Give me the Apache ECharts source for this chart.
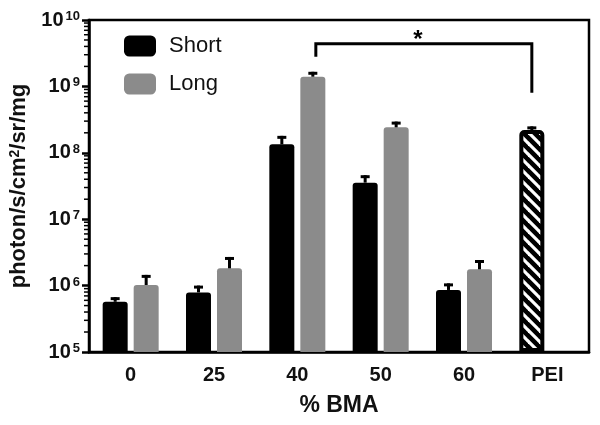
<!DOCTYPE html>
<html><head><meta charset="utf-8">
<script src="https://cdn.jsdelivr.net/npm/echarts@6/dist/echarts.min.js"></script>
<style>html,body{margin:0;padding:0;background:#fff}#c{width:600px;height:425px}</style>
</head><body><div id="c"></div>
<script>
const categories = ['0', '25', '40', '50', '60', 'PEI'];
const shortValues = [5.7e5, 7.9e5, 1.34e8, 3.55e7, 8.6e5, 2.2e8];
const shortUpper  = [6.7e5, 1.0e6, 1.8e8, 4.6e7, 1.08e6, 2.5e8];
const longValues  = [1.02e6, 1.82e6, 1.4e9, 2.42e8, 1.76e6, null];
const longUpper   = [1.45e6, 2.7e6, 1.66e9, 2.95e8, 2.43e6, null];
const yMin = 1e5, yMax = 1e10;
const minorMantissas = [2, 3, 4, 5, 6, 7, 8, 9];
const bracket = { from: '40', to: 'PEI', leftEnd: 2.8e9, top: 4.4e9, rightEnd: 8e8, starAt: 5.0e9, label: '*' };

const FONT = 'Liberation Sans, Arial, Helvetica, sans-serif';
const BAR_W = 25, BAR_GAP = 6, OFF = (BAR_W + BAR_GAP) / 2;

function hatch() {
  const s = 11, c = document.createElement('canvas');
  c.width = s; c.height = s;
  const g = c.getContext('2d');
  g.fillStyle = '#000'; g.fillRect(0, 0, s, s);
  g.strokeStyle = '#fff'; g.lineWidth = 3.2;
  for (const k of [-s, 0, s]) { g.beginPath(); g.moveTo(k - 1, -1); g.lineTo(k + s + 1, s + 1); g.stroke(); }
  return c;
}

const minorTicks = [];
for (let e = 5; e < 10; e++) for (const m of minorMantissas) minorTicks.push(m * Math.pow(10, e));

function errRender(offset) {
  return function (params, api) {
    const i = api.value(0), v = api.value(1), u = api.value(2);
    const p0 = api.coord([i, v]), p1 = api.coord([i, u]);
    const x = p0[0] + offset;
    return { type: 'group', children: [
      { type: 'line', shape: { x1: x, y1: p0[1], x2: x, y2: p1[1] }, style: { stroke: '#000', lineWidth: 3 } },
      { type: 'line', shape: { x1: x - 4.5, y1: p1[1] + 1.5, x2: x + 4.5, y2: p1[1] + 1.5 }, style: { stroke: '#000', lineWidth: 3 } }
    ]};
  };
}

const shortData = categories.map((c, i) => c === 'PEI'
  ? { value: shortValues[i], itemStyle: { color: { image: hatch(), repeat: 'repeat' }, borderColor: '#000', borderWidth: 4 } }
  : shortValues[i]);
const longData = longValues.map(v => v == null ? '-' : v);
const shortErr = categories.map((c, i) => [i, shortValues[i], shortUpper[i]]);
const longErr = categories.map((c, i) => [i, longValues[i], longUpper[i]]).filter(d => d[1] != null);

const chart = echarts.init(document.getElementById('c'), null, { renderer: 'canvas' });
chart.setOption({
  animation: false,
  backgroundColor: '#fff',
  textStyle: { fontFamily: FONT },
  grid: { left: 89, right: 11, top: 20, bottom: 73, show: true, borderColor: '#000', borderWidth: 2.5, backgroundColor: 'transparent' },
  legend: {
    data: ['Short', 'Long'], orient: 'vertical', left: 124, top: 35, padding: 0,
    itemWidth: 32, itemHeight: 21, itemGap: 16, icon: 'roundRect',
    textStyle: { fontSize: 22, fontFamily: FONT, color: '#111', lineHeight: 21, padding: [0, 0, 0, 8] }
  },
  xAxis: {
    type: 'category', data: categories,
    axisLine: { lineStyle: { color: '#000', width: 2.5 } },
    axisTick: { alignWithLabel: true, length: 6, lineStyle: { color: '#000', width: 2.5 } },
    axisLabel: { fontSize: 20, fontWeight: 'bold', color: '#111', margin: 13, fontFamily: FONT },
    name: '% BMA', nameLocation: 'middle', nameGap: 42,
    nameTextStyle: { fontSize: 23, fontWeight: 'bold', color: '#111', fontFamily: FONT }
  },
  yAxis: {
    type: 'log', logBase: 10, min: yMin, max: yMax, startValue: yMin,
    axisLine: { show: true, lineStyle: { color: '#000', width: 2.5 } },
    axisTick: { show: true, length: 7, lineStyle: { color: '#000', width: 2.5 } },
    splitLine: { show: false },
    axisLabel: {
      align: 'right', margin: 9,
      formatter: v => '{b|10}{s|' + Math.round(Math.log10(v)) + '}',
      rich: {
        b: { fontSize: 20, fontWeight: 'bold', color: '#111', fontFamily: FONT, lineHeight: 20 },
        s: { fontSize: 13, fontWeight: 'bold', color: '#111', fontFamily: FONT, verticalAlign: 'top', lineHeight: 13, padding: [0, 0, 0, 2] }
      }
    },
    name: 'photon/s/cm{sup|2}/sr/mg', nameLocation: 'middle', nameGap: 40, nameRotate: 90,
    nameTextStyle: {
      fontSize: 22, fontWeight: 'bold', color: '#111', fontFamily: FONT,
      rich: { sup: { fontSize: 14, fontWeight: 'bold', color: '#111', fontFamily: FONT, verticalAlign: 'top', lineHeight: 14 } }
    }
  },
  series: [
    { name: 'Short', type: 'bar', data: shortData, barWidth: BAR_W, barGap: (BAR_GAP / BAR_W * 100) + '%',
      itemStyle: { color: '#000', borderRadius: [3, 3, 0, 0] }, z: 2 },
    { name: 'Long', type: 'bar', data: longData, barWidth: BAR_W, barGap: (BAR_GAP / BAR_W * 100) + '%',
      itemStyle: { color: '#8b8b8b', borderRadius: [3, 3, 0, 0] }, z: 2 },
    { name: 'ShortErr', type: 'custom', data: shortErr, renderItem: errRender(-OFF), encode: { x: 0, y: [1, 2] }, z: 3, silent: true },
    { name: 'LongErr', type: 'custom', data: longErr, renderItem: errRender(OFF), encode: { x: 0, y: [1, 2] }, z: 3, silent: true },
    { name: 'MinorTicks', type: 'custom', z: 5, silent: true, clip: false,
      data: minorTicks.map(v => [0, v]), encode: { x: 0, y: 1 },
      renderItem: function (params, api) {
        const y = api.coord([0, api.value(1)])[1];
        const x = params.coordSys.x;
        return { type: 'line', shape: { x1: x - 5, y1: y, x2: x, y2: y }, style: { stroke: '#000', lineWidth: 1.5 } };
      }
    },
    { name: 'Bracket', type: 'custom', z: 4, silent: true, clip: false,
      data: [[categories.indexOf(bracket.from), categories.indexOf(bracket.to), bracket.leftEnd, bracket.top, bracket.rightEnd, bracket.starAt]],
      encode: { x: 0, y: 3 },
      renderItem: function (params, api) {
        const xl = api.coord([api.value(0), api.value(3)])[0] + OFF + 3;
        const xr = api.coord([api.value(1), api.value(3)])[0] - OFF;
        const yl = api.coord([api.value(0), api.value(2)])[1];
        const yt = api.coord([api.value(0), api.value(3)])[1];
        const yr = api.coord([api.value(1), api.value(4)])[1];
        const ys = api.coord([api.value(0), api.value(5)])[1];
        return { type: 'group', children: [
          { type: 'polyline', shape: { points: [[xl, yl], [xl, yt], [xr, yt], [xr, yr]] }, style: { stroke: '#000', lineWidth: 3, fill: null } },
          { type: 'text', x: (xl + xr) / 2 - 6, y: ys, style: { text: bracket.label, font: 'bold 24px ' + FONT, fill: '#000', align: 'center', verticalAlign: 'middle' } }
        ]};
      }
    }
  ]
});
</script>
</body></html>
